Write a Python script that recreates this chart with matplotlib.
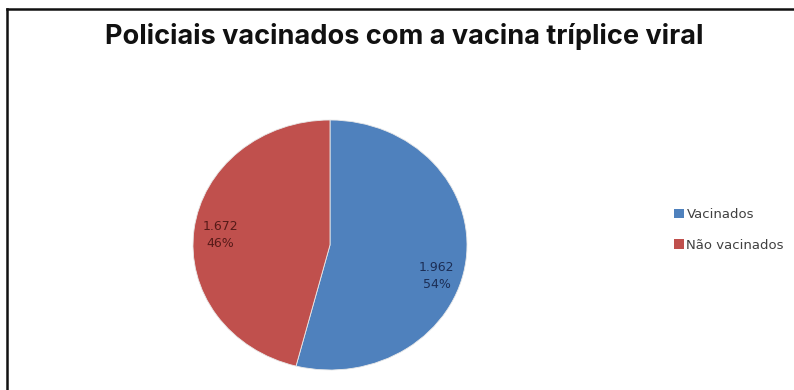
import matplotlib.pyplot as plt
from matplotlib.patches import Patch
from matplotlib.lines import Line2D

labels = ['Vacinados', 'Não vacinados']
values = [1962, 1672]
colors = ['#4F81BD', '#C0504D']
label_colors = ['#1C2E55', '#561A18']

fig = plt.figure(figsize=(7.94, 3.90), dpi=100)
fig.patch.set_facecolor('white')

# border (left + top only, as in the scan)
fig.add_artist(Line2D([7 / 794, 7 / 794], [0, 1 - 9 / 390], color='#111111', lw=1.8))
fig.add_artist(Line2D([7 / 794, 1], [1 - 9 / 390, 1 - 9 / 390], color='#111111', lw=1.8))

fig.text(404 / 794, 1 - 44 / 390, 'Policiais vacinados com a vacina tríplice viral',
         fontsize=19.5, fontweight='bold', family='Inter', color='#111111',
         ha='center', va='baseline')

ax = fig.add_axes([193 / 794, 20 / 390, 274 / 794, 250 / 390])
total = sum(values)
wedges, _ = ax.pie(values, colors=colors, startangle=90, counterclock=False,
                   wedgeprops=dict(edgecolor='#E8E8E8', linewidth=0.6))
ax.set_aspect('auto')
ax.set_xlim(-1.0, 1.0)
ax.set_ylim(-1.0, 1.0)
ax.axis('off')

# data labels (value + percent), positions
label_pos = [(0.78, -0.25), (-0.80, 0.08)]
for v, c, (x, y) in zip(values, label_colors, label_pos):
    txt = f"{v:,}".replace(',', '.') + f"\n{round(100 * v / total)}%"
    ax.text(x, y, txt, ha='center', va='center', fontsize=9, color=c,
            family='DejaVu Sans', linespacing=1.45)

handles = [Patch(facecolor=c, edgecolor='none') for c in colors]
fig.legend(handles, labels, loc='center left', bbox_to_anchor=(662 / 794, 1 - 230 / 390),
           frameon=False, fontsize=9.5, handlelength=0.8, handleheight=0.7,
           handletextpad=0.15, labelspacing=1.3, labelcolor='#404040')

fig.savefig('out.png', dpi=100, facecolor='white')
